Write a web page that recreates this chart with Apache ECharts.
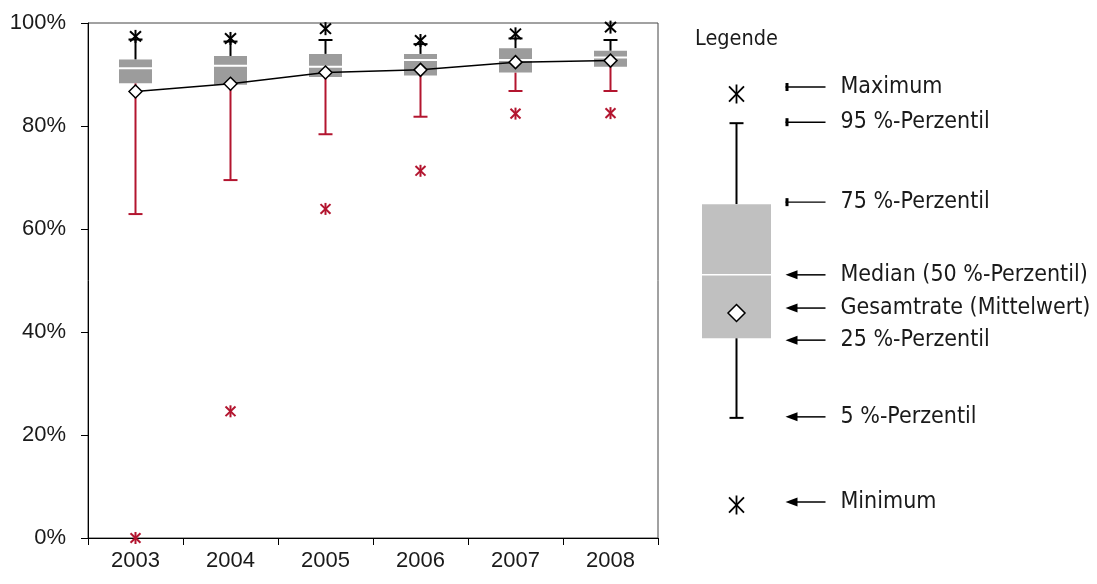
<!DOCTYPE html>
<html>
<head>
<meta charset="utf-8">
<script src="https://cdn.jsdelivr.net/npm/echarts@6/dist/echarts.min.js"></script>
<style>
html,body{margin:0;padding:0;background:#fff;}
#chart{width:1097px;height:584px;}
</style>
</head>
<body>
<div id="chart"></div>
<script>
// ---- data (in %) ----
const years   = ['2003', '2004', '2005', '2006', '2007', '2008'];
const p5      = [62.9, 69.5, 78.4, 81.8, 86.8, 86.8];
const p25     = [88.3, 88.0, 89.5, 89.8, 90.4, 91.5];
const median  = [91.2, 91.7, 91.5, 92.8, 92.8, 93.3];
const p75     = [92.9, 93.6, 94.0, 94.0, 95.1, 94.6];
const p95     = [96.8, 96.4, 96.7, 95.9, 97.0, 96.7];
const maxima  = [97.4, 97.0, 98.9, 96.6, 97.9, 99.2];
const minima  = [0.0, 24.6, 63.9, 71.3, 82.4, 82.5];
const means   = [86.7, 88.2, 90.4, 90.9, 92.4, 92.7];
const yTicks  = [0, 20, 40, 60, 80, 100];

// ---- legend schematic (levels on its own 0..100 scale) ----
const legendTitle  = 'Legende';
const legendLabels = ['Maximum', '95 %-Perzentil', '75 %-Perzentil', 'Median (50 %-Perzentil)',
                      'Gesamtrate (Mittelwert)', '25 %-Perzentil', '5 %-Perzentil', 'Minimum'];
const legendLevels = [100, 92.9, 73.2, 56.0, 46.7, 40.6, 21.2, 0];

const RED = '#b3152f';
const BOX = '#9c9c9c';
const LEGFONT = '"DejaVu Sans Condensed", "DejaVu Sans"';

function asterisk(cx, cy, h, w, color, lw) {
  return [
    {type:'line', shape:{x1:cx, y1:cy-h/2, x2:cx, y2:cy+h/2}, style:{stroke:color, lineWidth:lw}},
    {type:'line', shape:{x1:cx-w/2, y1:cy-h*0.4, x2:cx+w/2, y2:cy+h*0.4}, style:{stroke:color, lineWidth:lw}},
    {type:'line', shape:{x1:cx-w/2, y1:cy+h*0.4, x2:cx+w/2, y2:cy-h*0.4}, style:{stroke:color, lineWidth:lw}}
  ];
}

const boxData = years.map((y, i) => [i, p5[i], p25[i], median[i], p75[i], p95[i], maxima[i], minima[i]]);

function renderBox(params, api) {
  const i = api.value(0);
  const pt = v => api.coord([i, v]);
  const cx = pt(api.value(3))[0];
  const y5 = pt(api.value(1))[1], y25 = pt(api.value(2))[1], ym = pt(api.value(3))[1];
  const y75 = pt(api.value(4))[1], y95 = pt(api.value(5))[1];
  const ymax = pt(api.value(6))[1], ymin = pt(api.value(7))[1];
  const bw = 33, cw = 14;
  const ch = [
    {type:'line', shape:{x1:cx, y1:y25, x2:cx, y2:y5}, style:{stroke:RED, lineWidth:2}},
    {type:'line', shape:{x1:cx-cw/2, y1:y5, x2:cx+cw/2, y2:y5}, style:{stroke:RED, lineWidth:2}},
    {type:'line', shape:{x1:cx, y1:y75, x2:cx, y2:y95}, style:{stroke:'#000', lineWidth:2}},
    {type:'line', shape:{x1:cx-cw/2, y1:y95, x2:cx+cw/2, y2:y95}, style:{stroke:'#000', lineWidth:2}},
    {type:'rect', shape:{x:cx-bw/2, y:y75, width:bw, height:y25-y75}, style:{fill:BOX}},
    {type:'line', shape:{x1:cx-bw/2, y1:ym, x2:cx+bw/2, y2:ym}, style:{stroke:'#fff', lineWidth:2}}
  ].concat(asterisk(cx, ymax, 13, 11, '#000', 2), asterisk(cx, ymin, 12, 10, RED, 2));
  return {type:'group', children:ch};
}

const arrowOffsets = [-7, -1, -2, 0, -5, 2, -1, -3];
function renderLegend(params, api) {
  const pt = v => api.coord([0, v]);
  const cx = pt(legendLevels[0])[0];
  const Y = legendLevels.map(v => pt(v)[1]);
  const bw = 69, cw = 14;
  const ch = [
    {type:'line', shape:{x1:cx, y1:Y[2], x2:cx, y2:Y[1]}, style:{stroke:'#000', lineWidth:2}},
    {type:'line', shape:{x1:cx-cw/2, y1:Y[1], x2:cx+cw/2, y2:Y[1]}, style:{stroke:'#000', lineWidth:2}},
    {type:'line', shape:{x1:cx, y1:Y[5], x2:cx, y2:Y[6]}, style:{stroke:'#000', lineWidth:2}},
    {type:'line', shape:{x1:cx-cw/2, y1:Y[6], x2:cx+cw/2, y2:Y[6]}, style:{stroke:'#000', lineWidth:2}},
    {type:'rect', shape:{x:cx-bw/2, y:Y[2], width:bw, height:Y[5]-Y[2]}, style:{fill:'#c0c0c0'}},
    {type:'line', shape:{x1:cx-bw/2, y1:Y[3], x2:cx+bw/2, y2:Y[3]}, style:{stroke:'#fff', lineWidth:1.5}},
    {type:'polygon', shape:{points:[[cx, Y[4]-8.5],[cx+8.5, Y[4]],[cx, Y[4]+8.5],[cx-8.5, Y[4]]]},
      style:{fill:'#fff', stroke:'#000', lineWidth:1.5}}
  ].concat(asterisk(cx, Y[0], 19, 15, '#000', 1.8), asterisk(cx, Y[7], 19, 15, '#000', 1.8));
  const ax0 = cx + 49, ax1 = cx + 89, tx = cx + 104;
  legendLabels.forEach((lab, k) => {
    const ay = Y[k] + arrowOffsets[k];
    if (k < 3) {
      ch.push({type:'line', shape:{x1:ax0, y1:ay, x2:ax1, y2:ay}, style:{stroke:'#000', lineWidth:1.4}});
      ch.push({type:'rect', shape:{x:ax0, y:ay-4, width:3, height:8}, style:{fill:'#000'}});
    } else {
      ch.push({type:'line', shape:{x1:ax0+10, y1:ay, x2:ax1, y2:ay}, style:{stroke:'#000', lineWidth:1.5}});
      ch.push({type:'polygon', shape:{points:[[ax0, ay],[ax0+12, ay-4.5],[ax0+12, ay+4.5]]}, style:{fill:'#000'}});
    }
    ch.push({type:'text', style:{x:tx, y:ay, text:lab, fill:'#1a1a1a', font:'23px ' + LEGFONT, align:'left', verticalAlign:'middle'}});
  });
  return {type:'group', children:ch};
}

const chart = echarts.init(document.getElementById('chart'), null, {renderer:'canvas'});
chart.setOption({
  animation: false,
  backgroundColor: '#fff',
  graphic: [{type:'text', left:695, top:28, style:{text:legendTitle, fill:'#1a1a1a', font:'21.5px ' + LEGFONT}}],
  grid: [
    {left:88, right:439, top:23, bottom:46, show:true, borderColor:'#444', borderWidth:1, backgroundColor:'transparent'},
    {left:702, width:69, top:94, height:411, show:false}
  ],
  xAxis: [
    {type:'category', gridIndex:0, data:years, boundaryGap:true,
     axisLine:{lineStyle:{color:'#000', width:1}},
     axisTick:{show:true, length:7, lineStyle:{color:'#000'}},
     axisLabel:{color:'#1a1a1a', fontSize:22, fontFamily:'"Liberation Sans", Arial, sans-serif', margin:12},
     splitLine:{show:false}},
    {type:'category', gridIndex:1, data:['L'], show:false}
  ],
  yAxis: [
    {type:'value', gridIndex:0, min:yTicks[0], max:yTicks[yTicks.length-1], interval:yTicks[1]-yTicks[0],
     axisLine:{show:true, lineStyle:{color:'#000', width:1}},
     axisTick:{show:true, length:7, lineStyle:{color:'#000'}},
     axisLabel:{color:'#1a1a1a', fontSize:22, fontFamily:'"Liberation Sans", Arial, sans-serif', margin:22, formatter:'{value}%'},
     splitLine:{show:false}},
    {type:'value', gridIndex:1, min:0, max:100, show:false}
  ],
  series: [
    {type:'custom', xAxisIndex:0, yAxisIndex:0, data:boxData, renderItem:renderBox,
     encode:{x:0, y:[1,2,3,4,5,6,7]}, z:2, silent:true},
    {type:'line', xAxisIndex:0, yAxisIndex:0, data:means, z:5,
     symbol:'diamond', symbolSize:[13,13], showAllSymbol:true,
     lineStyle:{color:'#000', width:1.5},
     itemStyle:{color:'#fff', borderColor:'#000', borderWidth:1.5}},
    {type:'custom', xAxisIndex:1, yAxisIndex:1, data:[[0].concat(legendLevels)], renderItem:renderLegend,
     encode:{x:0, y:[1,2,3,4,5,6,7,8]}, silent:true}
  ]
});
</script>
</body>
</html>
